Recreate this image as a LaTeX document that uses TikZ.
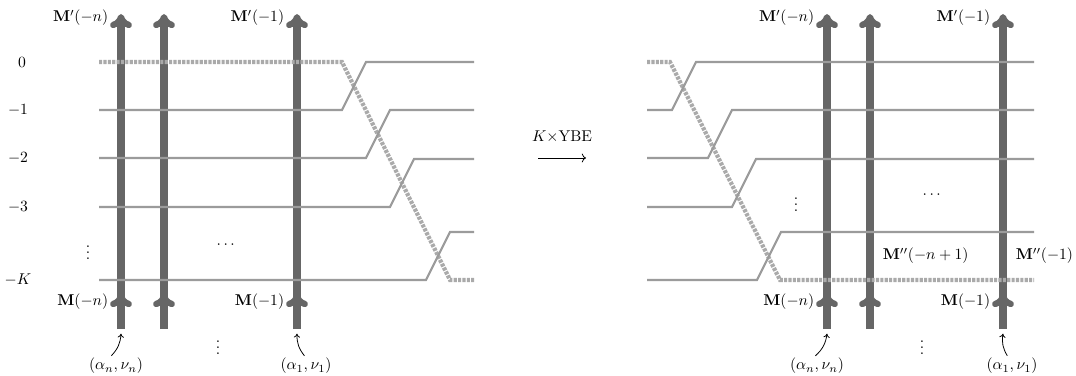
\documentclass[tikz,border=0pt]{standalone}
\usepackage{amsmath}
\usepackage{amssymb}
\usepackage{tikz}
\usetikzlibrary{arrows.meta}
\usetikzlibrary{decorations.markings}

\definecolor{wiregray}{RGB}{102,102,102}
\definecolor{stringgray}{RGB}{155,155,155}
\definecolor{dashgray}{RGB}{170,170,170}

\tikzset{
  wiretip/.tip={To[length=9pt,width=14pt,line width'=4pt]},
  wire/.style={line width=5pt,draw=wiregray,-wiretip,
    postaction={decorate,decoration={markings,mark=at position 23pt with {\arrow{wiretip}}}}},
  strand/.style={line width=1.3pt,draw=stringgray},
  dstrand/.style={line width=2.7pt,draw=dashgray,dash pattern=on 2pt off 0.8pt},
  lab/.style={inner sep=1pt},
  dots/.style={inner sep=0pt},
  curly/.style={-{To[length=2.5pt,width=4pt]},line width=0.5pt}
}

\begin{document}
\begin{tikzpicture}[x=0.64pt,y=-0.64pt]
\useasboundingbox (0,0) rectangle (1076,376);

% left picture: vertical lines
\foreach \x [count=\i] in {121,164,297} {
  \coordinate (lb\i) at (\x,329);
  \coordinate (lt\i) at (\x,14);
  \draw[wire] (lb\i) -- (lt\i);
}
% left picture: horizontal strands
\draw[dstrand] (99,62) -- (342,62) -- (450,280) -- (474,280);
\foreach \y/\x in {110/342,158/366,207/390}
  \draw[strand] (99,\y) -- (\x,\y) -- ++(24,-48) -- (474,\y-48);
\draw[strand] (99,280) -- (426,280) -- (450,232) -- (474,232);

\node (r0) at (22,62) {$0$};
\node (r1) at (18,110) {$-1$};
\node (r2) at (18,158) {$-2$};
\node (r3) at (18,207) {$-3$};
\node (rk) at (18,280) {$-K$};
\node[dots] (lvd) at (88,248) {$\vdots$};
\node[dots] (lcd) at (227,245) {$\cdots$};
\node[dots] (lbd) at (218,343) {$\vdots$};

\node[lab,anchor=east] (lmpn) at (110,18) {$\mathbf{M}'(-n)$};
\node[lab,anchor=east] (lmp1) at (286,18) {$\mathbf{M}'(-1)$};
\node[lab,anchor=east] (lmn) at (110,302) {$\mathbf{M}(-n)$};
\node[lab,anchor=east] (lm1) at (286,302) {$\mathbf{M}(-1)$};

\node (lan) at (116,366) {$(\alpha_n,\nu_n)$};
\node (la1) at (306,366) {$(\alpha_1,\nu_1)$};
\draw[curly] ([xshift=-3pt,yshift=-2pt]lan.north) to[bend right=20] ([yshift=-3pt]lb1);
\draw[curly] ([xshift=-1pt,yshift=-2pt]la1.north) to[bend left=20] ([yshift=-3pt]lb3);

% the middle arrow
\node (ybe) at (562,137) {$K{\times}\mathrm{YBE}$};
\coordinate (ybel) at (538,158);
\coordinate (yber) at (586,158);
\draw[-{Computer Modern Rightarrow},line width=0.5pt] (ybel) -- (yber);

% right picture: vertical lines
\foreach \x [count=\i] in {827,870,1003} {
  \coordinate (rb\i) at (\x,329);
  \coordinate (rt\i) at (\x,14);
  \draw[wire] (rb\i) -- (rt\i);
}
% right picture: horizontal strands
\draw[dstrand] (647,62) -- (670,62) -- (780,280) -- (1034,280);
\foreach \y/\x in {110/672,158/708,207/732}
  \draw[strand] (647,\y) -- (\x,\y) -- ++(24,-48) -- (1034,\y-48);
\draw[strand] (647,280) -- (757,280) -- (781,232) -- (1034,232);

\node[dots] (rvd) at (796,200) {$\vdots$};
\node[dots] (rcd) at (933,195) {$\cdots$};
\node[dots] (rbd) at (922,343) {$\vdots$};

\node[lab,anchor=east] (rmpn) at (816,18) {$\mathbf{M}'(-n)$};
\node[lab,anchor=east] (rmp1) at (992,18) {$\mathbf{M}'(-1)$};
\node[lab,anchor=east] (rmn) at (816,302) {$\mathbf{M}(-n)$};
\node[lab,anchor=east] (rm1) at (992,302) {$\mathbf{M}(-1)$};
\node[lab,anchor=west] (rmqn) at (881,256) {$\mathbf{M}''(-n+1)$};
\node[lab,anchor=west] (rmq1) at (1014,256) {$\mathbf{M}''(-1)$};

\node (ran) at (817,366) {$(\alpha_n,\nu_n)$};
\node (ra1) at (1012,366) {$(\alpha_1,\nu_1)$};
\draw[curly] ([xshift=-1pt,yshift=-2pt]ran.north) to[bend right=20] ([yshift=-3pt]rb1);
\draw[curly] ([xshift=-3pt,yshift=-2pt]ra1.north) to[bend left=20] ([yshift=-3pt]rb3);
\end{tikzpicture}
\end{document}
